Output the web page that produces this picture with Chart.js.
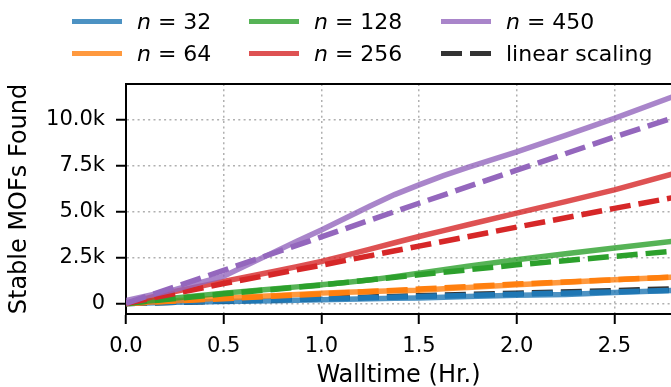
<!DOCTYPE html>
<html lang="en">
<head>
  <meta charset="UTF-8"/>
  <title>Stable MOFs Found vs Walltime</title>
  <script src="https://cdn.jsdelivr.net/npm/chart.js"></script>
  <style>
    body { margin: 0; background: #fff; font-family: 'DejaVu Sans', sans-serif; }
    #wrap { position: relative; width: 671px; height: 387px; overflow: hidden; }
    canvas { position: absolute; left: 0; top: 0; }
    .item { position: absolute; height: 30px; display: flex; align-items: center; font-size: 22px; color: #000; white-space: nowrap; }
    .swatch { width: 50px; height: 5px; margin-right: 15px; }
  </style>
</head>
<body>
  <div id="wrap">
    <canvas id="chart" width="671" height="387"></canvas>
    <div id="legend"></div>
  </div>

  <script>
    // walltime samples (hours) for the measured curves
    const hours = [0, 0.25, 0.5, 0.75, 0.875, 1.0, 1.125, 1.25, 1.375, 1.5, 1.625, 1.75, 2.0, 2.25, 2.5, 2.8]
    const n32  = [0, 60, 110, 150, 175, 200, 225, 250, 275, 300, 340, 380, 450, 490, 600, 700]
    const n64  = [0, 150, 290, 420, 490, 560, 610, 650, 690, 720, 800, 870, 1010, 1150, 1290, 1430]
    const n128 = [0, 300, 560, 790, 900, 1010, 1140, 1280, 1450, 1640, 1830, 2020, 2375, 2700, 3010, 3380]
    const n256 = [0, 650, 1200, 1720, 2000, 2280, 2610, 2950, 3300, 3640, 3960, 4280, 4910, 5540, 6180, 7050]
    const n450 = [150, 750, 1480, 2750, 3380, 4000, 4650, 5300, 5920, 6450, 6950, 7400, 8250, 9150, 10070, 11250]

    // linear scaling reference lines
    const linHours = [0, 0.5, 1.0, 1.5, 2.0, 2.5, 2.8]
    const linBase = [0, 135, 275, 415, 555, 700, 790]
    const lin32  = [0, 125, 250, 375, 500, 630, 705]
    const lin64  = [0, 260, 520, 780, 1050, 1290, 1440]
    const lin128 = [0, 520, 1000, 1560, 2100, 2560, 2840]
    const lin256 = [0, 1080, 2080, 3120, 4150, 5170, 5760]
    const lin450 = [0, 1800, 3620, 5450, 7250, 9050, 10100]

    const xTicks = [0, 0.5, 1.0, 1.5, 2.0, 2.5]
    const yTicks = [0, 2500, 5000, 7500, 10000]
    const yTickLabels = ['0', '2.5k', '5.0k', '7.5k', '10.0k']

    const labels = ['n = 32', 'n = 64', 'n = 128', 'n = 256', 'n = 450']
    const colors = ['31,119,180', '255,127,14', '44,160,44', '214,39,40', '148,103,189']
    const solid = [n32, n64, n128, n256, n450]
    const dashed = [lin32, lin64, lin128, lin256, lin450]

    const pts = (xs, ys) => xs.map((x, i) => ({ x: x, y: ys[i] }))
    const dash = [21, 8]
    const lw = 5.5

    // matplotlib draws later series on top; chart.js draws lower `order` on top
    let datasets = []
    let z = 100
    solid.forEach((s, i) => {
      datasets.push({
        label: labels[i],
        data: pts(hours, s),
        borderColor: `rgba(${colors[i]},0.8)`,
        borderWidth: lw,
        order: z--
      })
      if (i === 0) {
        datasets.push({
          label: 'linear scaling',
          data: pts(linHours, linBase),
          borderColor: 'rgba(0,0,0,0.8)',
          borderWidth: lw,
          borderDash: dash,
          order: z--
        })
      }
      datasets.push({
        label: labels[i] + ' linear',
        data: pts(linHours, dashed[i]),
        borderColor: `rgb(${colors[i]})`,
        borderWidth: lw,
        borderDash: dash,
        order: z--
      })
    })

    const frame = {
      id: 'frame',
      afterDraw(chart) {
        const { ctx, chartArea } = chart
        ctx.save()
        ctx.strokeStyle = '#000'
        ctx.lineWidth = 2
        ctx.beginPath()
        ctx.moveTo(chartArea.left - 1, chartArea.top)
        ctx.lineTo(chartArea.right, chartArea.top)
        ctx.stroke()
        ctx.restore()
      }
    }

    const tickFont = { family: 'DejaVu Sans', size: 21 }
    const titleFont = { family: 'DejaVu Sans', size: 24, lineHeight: 1 }

    new Chart(document.getElementById('chart'), {
      type: 'line',
      data: { datasets: datasets },
      plugins: [frame],
      options: {
        responsive: false,
        animation: false,
        devicePixelRatio: 1,
        layout: { padding: { top: 84, right: 0, bottom: 0, left: 0 } },
        elements: { point: { radius: 0 }, line: { tension: 0, borderCapStyle: 'butt' } },
        plugins: { legend: { display: false }, tooltip: { enabled: false } },
        scales: {
          x: {
            type: 'linear',
            min: 0,
            max: 2.79,
            afterFit: s => { s.height = 73 },
            afterBuildTicks: s => { s.ticks = xTicks.map(v => ({ value: v })) },
            ticks: { color: '#000', font: tickFont, padding: 10, maxRotation: 0, callback: v => v.toFixed(1) },
            grid: { color: '#b0b0b0', lineWidth: 1.5, tickLength: 10, tickColor: '#000', tickWidth: 2 },
            border: { display: true, color: '#000', width: 2, dash: [2, 3.3] },
            title: { display: true, text: 'Walltime (Hr.)', color: '#000', font: titleFont, padding: { top: 0, bottom: -1 } }
          },
          y: {
            min: -576,
            max: 11940,
            afterFit: s => { s.width = 126 },
            afterBuildTicks: s => { s.ticks = yTicks.map(v => ({ value: v })) },
            ticks: { color: '#000', font: tickFont, padding: 11, callback: v => yTickLabels[yTicks.indexOf(v)] },
            grid: { color: '#b0b0b0', lineWidth: 1.5, tickLength: 10, tickColor: '#000', tickWidth: 2 },
            border: { display: true, color: '#000', width: 2, dash: [2, 3.3] },
            title: { display: true, text: 'Stable MOFs Found', color: '#000', font: titleFont, padding: { top: 8, bottom: 0 } }
          }
        }
      }
    })

    // legend in matplotlib's 3-column, column-major layout
    const legendItems = [
      { text: '<i>n</i> = 32', col: 0, row: 0, bg: `rgba(${colors[0]},0.8)` },
      { text: '<i>n</i> = 64', col: 0, row: 1, bg: `rgba(${colors[1]},0.8)` },
      { text: '<i>n</i> = 128', col: 1, row: 0, bg: `rgba(${colors[2]},0.8)` },
      { text: '<i>n</i> = 256', col: 1, row: 1, bg: `rgba(${colors[3]},0.8)` },
      { text: '<i>n</i> = 450', col: 2, row: 0, bg: `rgba(${colors[4]},0.8)` },
      { text: 'linear scaling', col: 2, row: 1, bg: 'repeating-linear-gradient(90deg, rgba(0,0,0,0.8) 0 21px, transparent 21px 29px)' }
    ]
    const colX = [72, 249, 441]
    const rowY = [21, 53]
    const legend = document.getElementById('legend')
    legendItems.forEach(it => {
      const d = document.createElement('div')
      d.className = 'item'
      d.style.left = colX[it.col] + 'px'
      d.style.top = (rowY[it.row] - 15) + 'px'
      d.innerHTML = `<span class="swatch" style="background:${it.bg}"></span><span>${it.text}</span>`
      legend.appendChild(d)
    })
  </script>
</body>
</html>
